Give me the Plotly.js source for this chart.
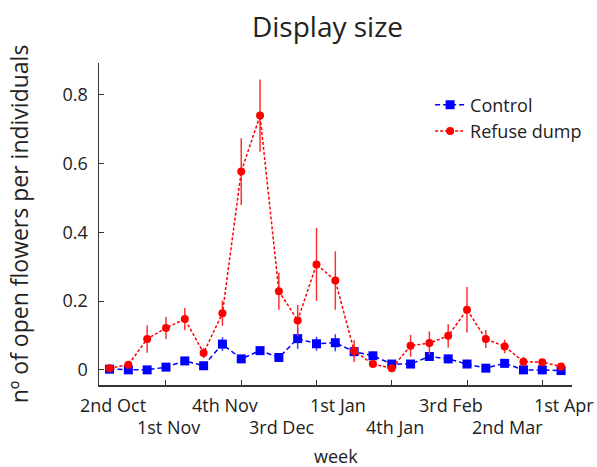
<!DOCTYPE html>
<html>
<head>
<meta charset="utf-8">
<script src="https://cdn.plot.ly/plotly-3.0.1.min.js"></script>
<style>html,body{margin:0;padding:0;background:#fff;}#chart{width:597px;height:467px;}</style>
</head>
<body>
<div id="chart"></div>
<script>
var weeks = [1,2,3,4,5,6,7,8,9,10,11,12,13,14,15,16,17,18,19,20,21,22,23,24,25];
var control = [0.002,0.000,0.000,0.008,0.026,0.012,0.075,0.032,0.056,0.036,0.091,0.076,0.079,0.053,0.041,0.017,0.017,0.039,0.032,0.017,0.005,0.019,0.000,0.000,-0.002];
var controlErr = [0.004,0.004,0.004,0.005,0.008,0.006,0.020,0.008,0.012,0.008,0.030,0.020,0.025,0.015,0.012,0.006,0.006,0.010,0.013,0.006,0.004,0.006,0.004,0.004,0.004];
var refuse = [0.005,0.015,0.090,0.122,0.148,0.049,0.165,0.577,0.740,0.229,0.144,0.307,0.260,0.055,0.017,0.005,0.070,0.078,0.099,0.175,0.090,0.068,0.024,0.022,0.010];
var refuseErr = [0.004,0.006,0.040,0.032,0.032,0.015,0.037,0.097,0.105,0.054,0.045,0.106,0.085,0.032,0.006,0.004,0.032,0.034,0.034,0.066,0.026,0.020,0.014,0.010,0.006];
var tickWeeks = [4,8,12,16,20,24];
var labelWeeks = [1,4,7,10,13,16,19,22,25];
var labelTexts = ["2nd Oct","1st Nov","4th Nov","3rd Dec","1st Jan","4th Jan","3rd Feb","2nd Mar","1st Apr"];
var yTickVals = [0,0.2,0.4,0.6,0.8];
var yTickText = ["0","0.2","0.4","0.6","0.8"];

var FONT = "Open Sans, Noto Sans, sans-serif";
var TXT = "#222";

var traces = [
  {x: weeks, y: control, name: "Control", type: "scatter", mode: "lines+markers",
   line: {color: "#0000ff", width: 1.5, dash: "5px,3px"},
   marker: {symbol: "square", size: 9, color: "#0000ff"},
   error_y: {type: "data", array: controlErr, visible: true, color: "#3a3aff", thickness: 1.5, width: 0}},
  {x: weeks, y: refuse, name: "Refuse dump", type: "scatter", mode: "lines+markers",
   line: {color: "#ff0000", width: 1.5, dash: "3px,2px"},
   marker: {symbol: "circle", size: 8, color: "#ff0000"},
   error_y: {type: "data", array: refuseErr, visible: true, color: "#ff3030", thickness: 1.5, width: 0}}
];

var annotations = labelWeeks.map(function(w, i){
  return {x: w, xref: "x", y: 0, yref: "paper", text: labelTexts[i], showarrow: false,
          xanchor: "center", yanchor: "middle", xshift: 3, yshift: (i % 2 === 0) ? -20 : -42,
          font: {family: FONT, size: 18, color: TXT}};
});
annotations.push({x: 0.5, xref: "paper", y: 0, yref: "paper", text: "week", showarrow: false,
  xanchor: "center", yanchor: "middle", yshift: -71, font: {family: FONT, size: 18, color: TXT}});

var layout = {
  width: 597, height: 467,
  margin: {l: 99, r: 25, t: 63, b: 82, autoexpand: false},
  paper_bgcolor: "#fff", plot_bgcolor: "#fff",
  font: {family: FONT, size: 18, color: TXT},
  title: {text: "Display size", font: {family: FONT, size: 28, color: TXT},
          x: 327.5/597, xref: "container", xanchor: "center",
          y: 1 - 27/467, yref: "container", yanchor: "middle"},
  xaxis: {range: [0.44, 25.58], tickvals: tickWeeks, showticklabels: false,
          ticks: "inside", ticklen: 5, tickwidth: 1, tickcolor: "#333",
          showline: true, linecolor: "#333", linewidth: 1.5, showgrid: false, zeroline: false},
  yaxis: {range: [-0.044, 0.893], tickvals: yTickVals, ticktext: yTickText,
          ticks: "inside", ticklen: 5, tickwidth: 1, tickcolor: "#333", ticklabelstandoff: 6,
          tickfont: {family: FONT, size: 18, color: TXT},
          showline: true, linecolor: "#333", linewidth: 1.5, showgrid: false, zeroline: false,
          title: {text: "nº of open flowers per individuals", font: {family: FONT, size: 23, color: TXT}, standoff: 27}},
  legend: {x: 0.70, xanchor: "left", y: 0.927, yanchor: "top",
           bgcolor: "rgba(0,0,0,0)", borderwidth: 0, font: {family: FONT, size: 18, color: TXT},
           tracegroupgap: 0, itemwidth: 30},
  showlegend: true,
  annotations: annotations
};

Plotly.newPlot("chart", traces, layout, {displayModeBar: false, staticPlot: true});
</script>
</body>
</html>
